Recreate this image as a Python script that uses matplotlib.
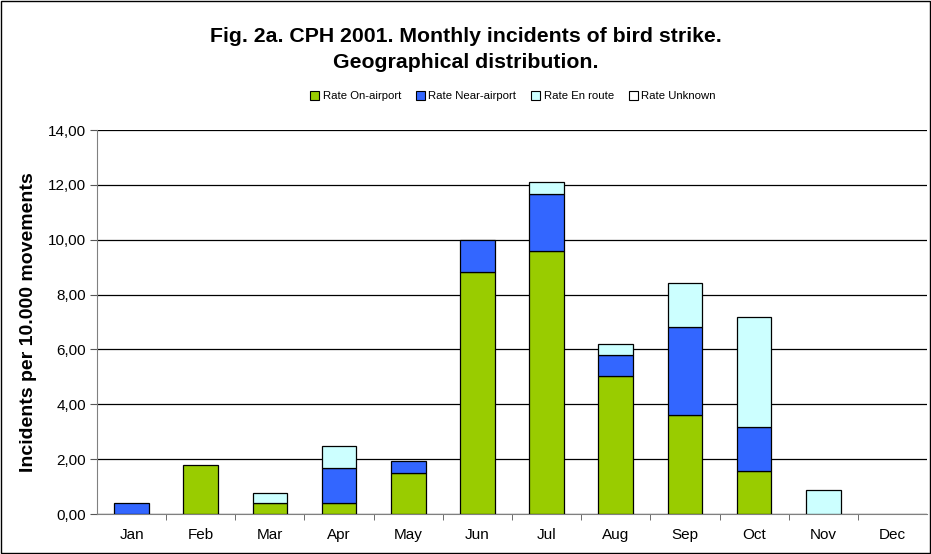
import matplotlib
matplotlib.use("Agg")
import matplotlib.pyplot as plt
import numpy as np
from matplotlib.patches import Rectangle

plt.rcParams['font.family'] = ['Liberation Sans', 'DejaVu Sans']

months = ["Jan", "Feb", "Mar", "Apr", "May", "Jun", "Jul", "Aug", "Sep", "Oct", "Nov", "Dec"]
on_airport = [0.0, 1.79, 0.39, 0.39, 1.51, 8.81, 9.59, 5.02, 3.61, 1.58, 0.0, 0.0]
near_airport = [0.41, 0.0, 0.0, 1.28, 0.42, 1.19, 2.08, 0.78, 3.22, 1.60, 0.0, 0.0]
en_route = [0.0, 0.0, 0.39, 0.82, 0.0, 0.0, 0.42, 0.40, 1.58, 3.99, 0.86, 0.0]
unknown = [0.0] * 12
series_names = ["Rate On-airport", "Rate Near-airport", "Rate En route", "Rate Unknown"]
colors = ["#99CC00", "#3366FF", "#CCFFFF", "#FFFFFF"]
yticks = np.arange(0, 14.01, 2)

fig = plt.figure(figsize=(9.31, 5.54), dpi=100)
fig.patches.append(Rectangle((0.0015, 0.002), 0.997, 0.996, transform=fig.transFigure,
                             fill=False, edgecolor='black', linewidth=1.0))
ax = fig.add_axes([97/931, 1 - 514/554, (927-97)/931, (514-130)/554])

x = np.arange(len(months))
bottom = np.zeros(len(months))
for vals, c, name in zip([on_airport, near_airport, en_route, unknown], colors, series_names):
    v = np.array(vals)
    mask = v > 0
    ax.bar(x[mask], v[mask], width=0.5, bottom=bottom[mask], color=c, edgecolor='black',
           linewidth=0.9, zorder=3)
    bottom += v

ax.set_xlim(-0.5, 11.5)
ax.set_ylim(0, 14)
ax.set_yticks(yticks)
ax.set_yticklabels([f"{t:.2f}".replace('.', ',') for t in yticks], fontsize=11)
ax.yaxis.grid(True, color='black', linewidth=0.9, zorder=0)
ax.set_xticks(x)
ax.set_xticklabels(months, fontsize=11)
ax.tick_params(axis='x', length=0, pad=10)
ax.set_xticks(np.arange(0.5, 11.5, 1), minor=True)
ax.tick_params(axis='x', which='minor', length=4, direction='out', color='#555555')
ax.tick_params(axis='y', length=5, direction='out', color='#555555', pad=3)
for s in ['top', 'right']:
    ax.spines[s].set_visible(False)
ax.spines['left'].set_color('#808080')
ax.spines['bottom'].set_color('#808080')

ax.set_ylabel("Incidents per 10.000 movements", fontsize=14, fontweight='bold', labelpad=8)

fig.text(0.5, 1 - 36/554, "Fig. 2a. CPH 2001. Monthly incidents of bird strike.", ha='center', va='center',
         fontsize=15.3, fontweight='bold')
fig.text(0.5, 1 - 62/554, "Geographical distribution.", ha='center', va='center',
         fontsize=15.3, fontweight='bold')

handles = [Rectangle((0, 0), 1, 1, facecolor=c, edgecolor='black', linewidth=0.8) for c in colors]
fig.legend(handles, series_names, loc='center', bbox_to_anchor=(0.551, 1 - 96/554), ncol=4,
           frameon=False, fontsize=8.2, handlelength=0.8, handleheight=0.8, handletextpad=0.3,
           columnspacing=1.3)

fig.savefig("out.png", dpi=100)
